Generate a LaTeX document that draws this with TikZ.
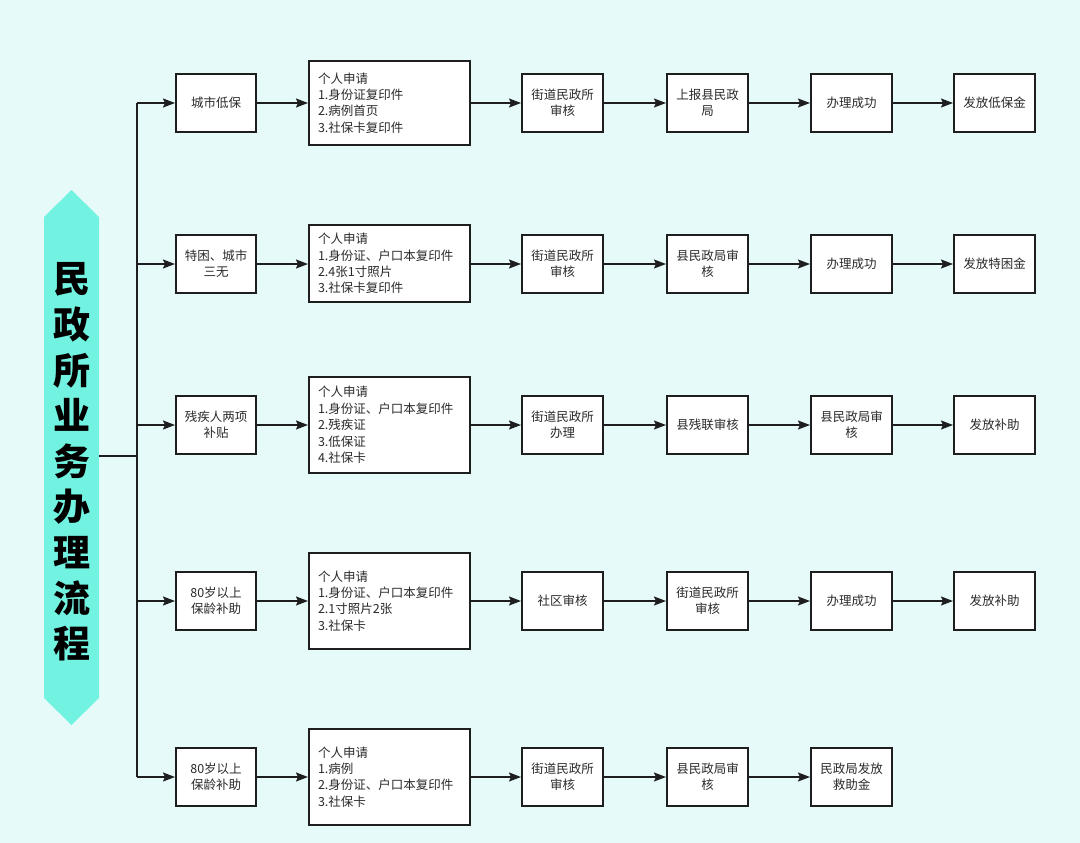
\documentclass[tikz,border=0pt]{standalone}
\usepackage{fontspec}
\setmainfont{Noto Sans CJK SC}
\usetikzlibrary{arrows.meta}
\definecolor{bg}{HTML}{E6FAFA}
\definecolor{banner}{HTML}{72F2E0}
\definecolor{ln}{HTML}{1E1E1E}
\definecolor{txt}{HTML}{2A2A2A}
\begin{document}
\begin{tikzpicture}[x=1pt,y=-1pt,
  box/.style={draw=ln,line width=2pt,fill=white,minimum width=81pt,minimum height=58pt,
    align=center,inner sep=2pt,text=txt,font=\fontsize{12.5}{16}\selectfont},
  reqbox/.style={draw=ln,line width=2pt,fill=white,text width=143pt,inner xsep=9pt,inner ysep=2pt,
    minimum height=#1,align=left,text=txt,font=\fontsize{12.5}{16.4}\selectfont},
  arr/.style={draw=ln,line width=1.6pt,-{Stealth[length=12pt,width=9pt,inset=2pt]}},
  trunk/.style={draw=ln,line width=1.6pt}]
\useasboundingbox (0,0) rectangle (1080,843);
\fill[bg] (0,0) rectangle (1080,843);
% banner
\fill[banner] (44,217) -- (71.5,190) -- (99,217) -- (99,698) -- (71.5,725) -- (44,698) -- cycle;
\node[align=center,inner sep=0pt,font=\fontsize{37}{45.6}\selectfont\bfseries] (title) at (72,462)
  {民\\政\\所\\业\\务\\办\\理\\流\\程};
\coordinate (bn) at (99,456);
\coordinate (j) at (137,456);
\coordinate (t1) at (137,103);
\coordinate (t2) at (137,264);
\coordinate (t3) at (137,425);
\coordinate (t4) at (137,601);
\coordinate (t5) at (137,777);
\draw[trunk] (bn) -- (j);
\draw[trunk] (t1) -- (t5);
% row 1
\node[box,minimum width=80pt] (a1) at (216,103) {城市低保};
\node[reqbox=84pt] (b1) at (389.5,103) {个人申请\\1.身份证复印件\\2.病例首页\\3.社保卡复印件};
\node[box] (c1) at (562.5,103) {街道民政所\\审核};
\node[box] (d1) at (707.5,103) {上报县民政\\局};
\node[box] (e1) at (851.5,103) {办理成功};
\node[box] (f1) at (994.5,103) {发放低保金};
% row 2
\node[box,minimum width=80pt] (a2) at (216,264) {特困、城市\\三无};
\node[reqbox=77pt] (b2) at (389.5,263.5) {个人申请\\1.身份证、户口本复印件\\2.4张1寸照片\\3.社保卡复印件};
\node[box] (c2) at (562.5,264) {街道民政所\\审核};
\node[box] (d2) at (707.5,264) {县民政局审\\核};
\node[box] (e2) at (851.5,264) {办理成功};
\node[box] (f2) at (994.5,264) {发放特困金};
% row 3
\node[box,minimum width=80pt] (a3) at (216,425) {残疾人两项\\补贴};
\node[reqbox=96pt] (b3) at (389.5,425) {个人申请\\1.身份证、户口本复印件\\2.残疾证\\3.低保证\\4.社保卡};
\node[box] (c3) at (562.5,425) {街道民政所\\办理};
\node[box] (d3) at (707.5,425) {县残联审核};
\node[box] (e3) at (851.5,425) {县民政局审\\核};
\node[box] (f3) at (994.5,425) {发放补助};
% row 4
\node[box,minimum width=80pt] (a4) at (216,601) {80岁以上\\保龄补助};
\node[reqbox=96pt] (b4) at (389.5,601) {个人申请\\1.身份证、户口本复印件\\2.1寸照片2张\\3.社保卡};
\node[box] (c4) at (562.5,601) {社区审核};
\node[box] (d4) at (707.5,601) {街道民政所\\审核};
\node[box] (e4) at (851.5,601) {办理成功};
\node[box] (f4) at (994.5,601) {发放补助};
% row 5
\node[box,minimum width=80pt] (a5) at (216,777) {80岁以上\\保龄补助};
\node[reqbox=96pt] (b5) at (389.5,777) {个人申请\\1.病例\\2.身份证、户口本复印件\\3.社保卡};
\node[box] (c5) at (562.5,777) {街道民政所\\审核};
\node[box] (d5) at (707.5,777) {县民政局审\\核};
\node[box] (e5) at (851.5,777) {民政局发放\\救助金};
% arrows
\foreach \r in {1,2,3,4,5}{
  \draw[arr] (t\r) -- (a\r.west);
  \draw[arr] (a\r.east) -- (a\r.east -| b\r.west);
  \draw[arr] (b\r.east |- c\r.west) -- (c\r.west);
  \draw[arr] (c\r.east) -- (d\r.west);
  \draw[arr] (d\r.east) -- (e\r.west);
}
\foreach \r in {1,2,3,4}{
  \draw[arr] (e\r.east) -- (f\r.west);
}
\end{tikzpicture}
\end{document}
